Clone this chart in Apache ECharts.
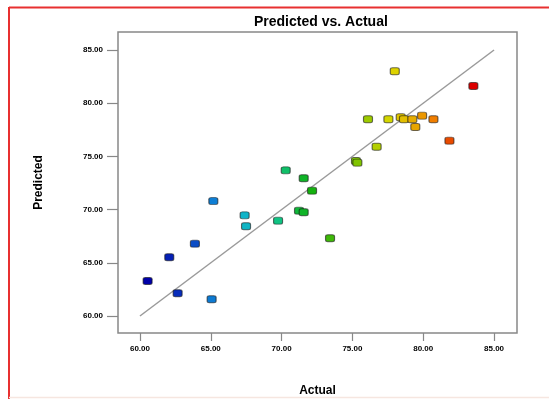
<!DOCTYPE html>
<html>
<head>
<meta charset="utf-8">
<script src="https://cdn.jsdelivr.net/npm/echarts@6/dist/echarts.min.js"></script>
<style>
  html, body { margin: 0; padding: 0; background: #fff; }
  #chart { width: 549px; height: 399px; }
</style>
</head>
<body>
<div id="chart"></div>
<script>
// Observed response values and model predictions
const actual = [60.54, 62.66, 62.07, 63.88, 65.06, 65.18, 67.39, 67.49, 69.75, 70.29,
                71.56, 72.15, 71.23, 71.56, 73.42, 75.25, 75.35, 76.71, 76.10, 77.54,
                77.99, 78.41, 78.64, 79.23, 79.92, 80.72, 79.44, 81.85, 83.54];
const predicted = [63.29, 62.13, 65.52, 66.80, 61.57, 70.80, 69.46, 68.43, 68.96, 73.69,
                   72.94, 71.78, 69.90, 69.75, 67.30, 74.57, 74.41, 75.91, 78.49, 78.49,
                   83.00, 78.68, 78.49, 78.49, 78.83, 78.49, 77.76, 76.48, 81.62];
// Reference line where predicted equals actual
const identityLine = [[60, 60], [85, 85]];
const tickValues = [60, 65, 70, 75, 80, 85];

const points = actual.map((a, i) => [a, predicted[i]]);

const chart = echarts.init(document.getElementById('chart'), null, { renderer: 'canvas' });

const tickFont = { fontFamily: 'Liberation Sans', fontWeight: 'bold', fontSize: 8, color: '#000' };

chart.setOption({
  animation: false,
  backgroundColor: '#fff',
  title: {
    text: 'Predicted vs. Actual',
    left: 249, top: 10,
    textStyle: { fontFamily: 'Liberation Sans', fontWeight: 'bold', fontSize: 14, color: '#000', letterSpacing: -0.4 }
  },
  grid: {
    left: 118, top: 32, width: 399, height: 301,
    outerBoundsMode: 'none', containLabel: false,
    show: true, borderColor: '#888', borderWidth: 1.5, backgroundColor: '#fff'
  },
  xAxis: {
    type: 'value', min: 58.45, max: 86.62,
    name: 'Actual', nameLocation: 'middle', nameGap: 52,
    nameTextStyle: { fontFamily: 'Liberation Sans', fontWeight: 'bold', fontSize: 12, color: '#000' },
    axisLine: { show: false },
    splitLine: { show: false },
    axisTick: { show: true, customValues: tickValues, length: 8, lineStyle: { color: '#888', width: 1.2 } },
    axisLabel: Object.assign({ customValues: tickValues, margin: 12, formatter: v => v.toFixed(2) }, tickFont)
  },
  yAxis: {
    type: 'value', min: 58.40, max: 86.69,
    name: 'Predicted', nameLocation: 'middle', nameGap: 73, nameRotate: 90,
    nameTextStyle: { fontFamily: 'Liberation Sans', fontWeight: 'bold', fontSize: 12, color: '#000' },
    axisLine: { show: false },
    splitLine: { show: false },
    axisTick: { show: true, customValues: tickValues, length: 11, lineStyle: { color: '#888', width: 1.2 } },
    axisLabel: Object.assign({ customValues: tickValues, margin: 15, formatter: v => v.toFixed(2) }, tickFont)
  },
  visualMap: {
    show: false, type: 'continuous', seriesIndex: 1, dimension: 0,
    min: 60.54, max: 83.54,
    inRange: { color: ['#0000a8', '#0a3cc0', '#10a8e0', '#10c8a0', '#10b010', '#70c000', '#dcd800', '#f08000', '#dc0000'] }
  },
  series: [
    {
      type: 'line', data: identityLine, symbol: 'none', silent: true,
      lineStyle: { color: '#9a9a9a', width: 1.5 }, z: 1
    },
    {
      type: 'scatter', data: points, symbol: 'roundRect', symbolSize: [9, 7],
      itemStyle: { opacity: 1, borderColor: 'rgba(20,20,20,0.6)', borderWidth: 1, borderRadius: 1 }, z: 2
    }
  ],
  graphic: [
    { type: 'line', shape: { x1: 9, y1: 7.5, x2: 549, y2: 7.5 }, style: { stroke: '#e83030', lineWidth: 2 } },
    { type: 'line', shape: { x1: 9, y1: 7, x2: 9, y2: 399 }, style: { stroke: '#e83030', lineWidth: 2 } },
    { type: 'line', shape: { x1: 9, y1: 397.5, x2: 549, y2: 397.5 }, style: { stroke: '#f6e6e0', lineWidth: 1.5 } }
  ]
});
</script>
</body>
</html>
